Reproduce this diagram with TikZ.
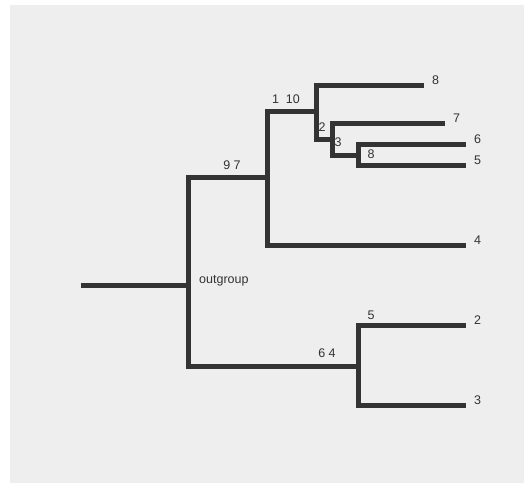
\documentclass[tikz,border=0pt]{standalone}
\usepackage{fontspec}
\setmainfont{Liberation Sans}
\usepackage{xcolor,tikz}
\definecolor{panel}{HTML}{EEEEEE}
\definecolor{ink}{HTML}{333333}

\begin{document}
\begin{tikzpicture}[x=1pt,y=-1pt,
  branch/.style={ink,line width=5pt,line join=miter},
  lab/.style={ink,inner sep=0pt,font=\fontsize{12.5}{14}\selectfont},
  leaf/.style={lab,anchor=west,xshift=8pt,yshift=4.5pt}]
\useasboundingbox (0,0) rectangle (524,483);
\fill[panel] (10,5) rectangle (524,483);
% branch points
\coordinate (base) at (81,285);
\coordinate (nA) at (188,285);
\coordinate (nB) at (267,177);
\coordinate (nC) at (316,111);
\coordinate (nD) at (332,139);
\coordinate (nE) at (358,155);
\coordinate (nF) at (358,366);
% tips
\coordinate (t8) at (424,85);
\coordinate (t7) at (445,123);
\coordinate (t6) at (466,144);
\coordinate (t5) at (466,165);
\coordinate (t4) at (466,245);
\coordinate (t2) at (466,325);
\coordinate (t3) at (466,405);
% tree
\draw[branch] (base) -- (nA);
\draw[branch] (nA) |- (nB);
\draw[branch] (nA) |- (nF);
\draw[branch] (nB) |- (nC);
\draw[branch] (nB) |- (t4);
\draw[branch] (nC) |- (t8);
\draw[branch] (nC) |- (nD);
\draw[branch] (nD) |- (t7);
\draw[branch] (nD) |- (nE);
\draw[branch] (nE) |- (t6);
\draw[branch] (nE) |- (t5);
\draw[branch] (nF) |- (t2);
\draw[branch] (nF) |- (t3);
% tip names
\node[leaf] (n8) at (t8) {8};
\node[leaf] (n7) at (t7) {7};
\node[leaf] (n6) at (t6) {6};
\node[leaf] (n5) at (t5) {5};
\node[leaf] (n4) at (t4) {4};
\node[leaf] (n2) at (t2) {2};
\node[leaf] (n3) at (t3) {3};
% support values
\node[lab] (s97) at (232,165) {9 7};
\node[lab] (s110) at (286,99) {1\ \ 10};
\node[lab] (s2) at (322,127) {2};
\node[lab] (s3) at (338,142) {3};
\node[lab] (s8) at (371,154) {8};
\node[lab] (s64) at (327,353) {6 4};
\node[lab] (s5) at (371,315) {5};
\node[lab,anchor=west] (og) at (199,281) {outgroup};
\end{tikzpicture}
\end{document}
